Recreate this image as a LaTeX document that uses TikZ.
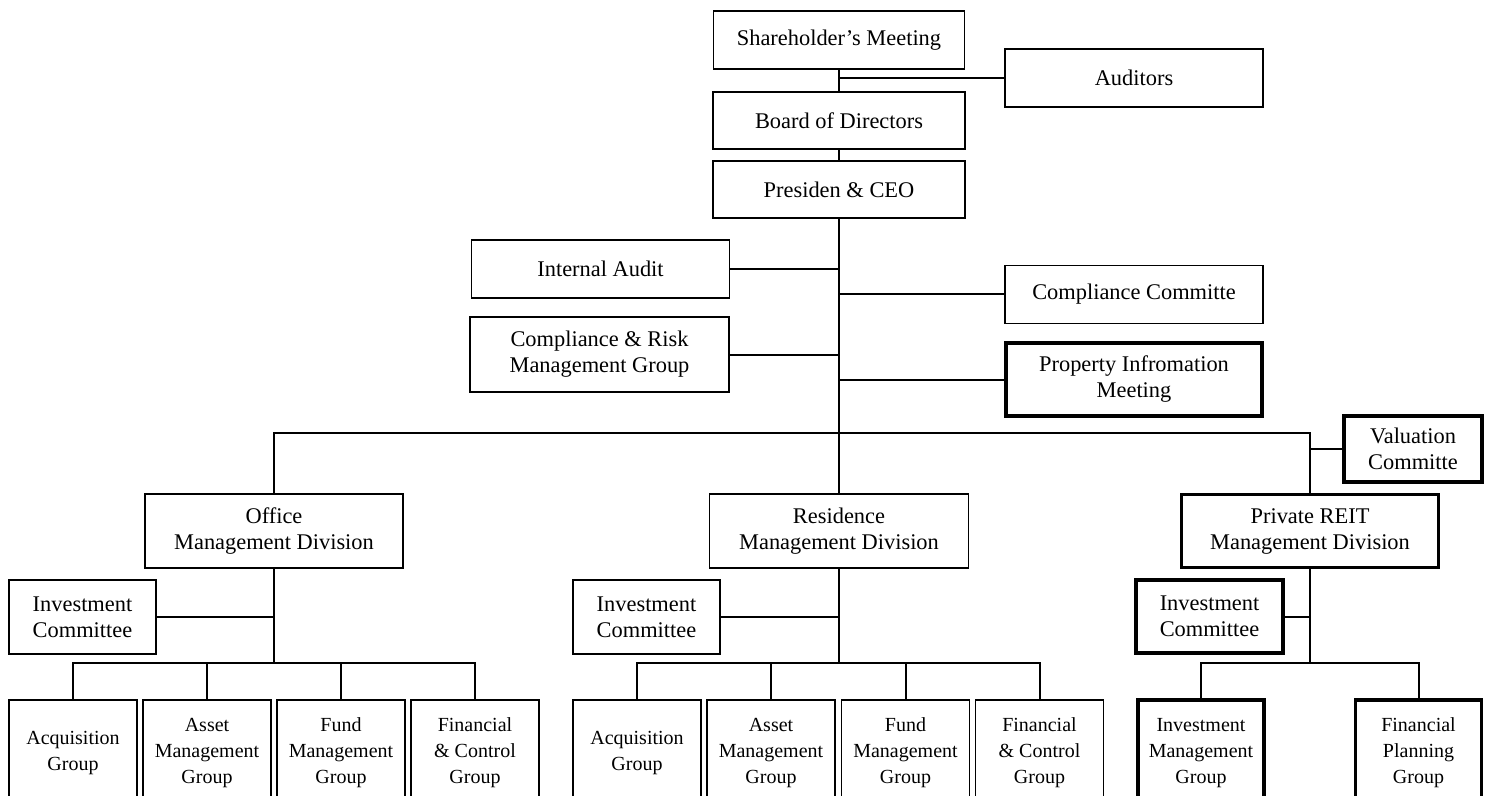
\documentclass[tikz,border=0pt]{standalone}
\usepackage{fontspec}
\setmainfont{Liberation Serif}
\usepackage{tikz}
\newcommand{\orgFont}{\fontsize{11.2}{13}\selectfont}
\newcommand{\groupFont}{\fontsize{10}{13}\selectfont}
\newcommand{\groupWidth}{64pt}
\newcommand{\groupHeight}{53pt}

\begin{document}
\begin{tikzpicture}[x=0.5pt, y=-0.5pt,
		orgbox/.style={draw, line width=0.7pt, align=center, inner sep=1pt, font=\orgFont},
		heavybox/.style={orgbox, line width=1.7pt},
		groupbox/.style={orgbox, font=\groupFont, minimum width=\groupWidth, minimum height=\groupHeight},
		heavygroup/.style={groupbox, line width=1.7pt},
		link/.style={line width=1pt}]
		\useasboundingbox (0,0) rectangle (1491,796);
		\clip (0,0) rectangle (1491,796);
		%top of the chart
		\node[orgbox, minimum width=125.5pt, minimum height=29pt] (share) at (839,40) {Shareholder's Meeting};
		\node[orgbox, minimum width=129pt, minimum height=29pt] (auditors) at (1134,78) {Auditors};
		\node[orgbox, minimum width=126pt, minimum height=28.5pt] (board) at (839,120.5) {Board of Directors};
		\node[orgbox, minimum width=126pt, minimum height=28.5pt] (ceo) at (839,189.5) {Presiden \& CEO};
		%staff around the president
		\node[orgbox, minimum width=129pt, minimum height=29pt] (intaudit) at (600.5,269) {Internal Audit};
		\node[orgbox, minimum width=129.5pt, minimum height=37.5pt] (crm) at (599.5,354.5) {Compliance \& Risk\\Management Group};
		\node[orgbox, minimum width=129pt, minimum height=29pt] (compcomm) at (1134,294.5) {Compliance Committe};
		\node[heavybox, minimum width=128pt, minimum height=36.5pt] (propinfo) at (1134,379.5) {Property Infromation\\Meeting};
		\coordinate (trunk) at (839,433);
		%divisions
		\node[heavybox, minimum width=69pt, minimum height=33pt] (valuation) at (1413,449) {Valuation\\Committe};
		\node[orgbox, minimum width=129pt, minimum height=37pt] (office) at (274,531) {Office\\Management Division};
		\node[orgbox, minimum width=129.5pt, minimum height=37pt] (residence) at (839,531) {Residence\\Management Division};
		\node[heavybox, minimum width=128.5pt, minimum height=36.5pt] (preit) at (1310,531) {Private REIT\\Management Division};
		%office division
		\node[orgbox, minimum width=73.5pt, minimum height=37pt] (officeinv) at (82.5,617) {Investment\\Committee};
		\coordinate (officebus) at (274,663);
		\node[groupbox] (officeacq) at (73,753) {Acquisition\\Group};
		\node[groupbox] (officeasset) at (207,753) {Asset\\Management\\Group};
		\node[groupbox] (officefund) at (341,753) {Fund\\Management\\Group};
		\node[groupbox] (officefin) at (475,753) {Financial\\\& Control\\Group};
		%residence division
		\node[orgbox, minimum width=73.5pt, minimum height=37pt] (resinv) at (646.5,617) {Investment\\Committee};
		\coordinate (resbus) at (839,663);
		\node[groupbox] (resacq) at (637,753) {Acquisition\\Group};
		\node[groupbox] (resasset) at (771,753) {Asset\\Management\\Group};
		\node[groupbox] (resfund) at (905.5,753) {Fund\\Management\\Group};
		\node[groupbox] (resfin) at (1039.5,753) {Financial\\\& Control\\Group};
		%private REIT division
		\node[heavybox, minimum width=73.5pt, minimum height=36.5pt] (preitinv) at (1209.5,616.5) {Investment\\Committee};
		\coordinate (preitbus) at (1310,663);
		\node[heavygroup, minimum width=63pt] (preitmgmt) at (1201,753) {Investment\\Management\\Group};
		\node[heavygroup, minimum width=63pt] (preitplan) at (1418.5,753) {Financial\\Planning\\Group};

		%connectors
		\draw[link] (share.south) -- (board.north);
		\draw[link] (auditors.west) -- (auditors.west -| share.south);
		\draw[link] (board.south) -- (ceo.north);
		\draw[link] (ceo.south) -- (trunk);
		\draw[link] (intaudit.east) -- (intaudit.east -| trunk);
		\draw[link] (crm.east) -- (crm.east -| trunk);
		\draw[link] (compcomm.west) -- (compcomm.west -| trunk);
		\draw[link] (propinfo.west) -- (propinfo.west -| trunk);
		\draw[link] (office.north) |- (trunk) -| (preit.north);
		\draw[link] (trunk) -- (residence.north);
		\draw[link] (valuation.west) -- (valuation.west -| preit.north);
		%office tree
		\draw[link] (office.south) -- (officebus);
		\draw[link] (officeinv.east) -- (officeinv.east -| officebus);
		\draw[link] (officeacq.north) |- (officebus) -| (officefin.north);
		\draw[link] (officeasset.north) -- (officeasset.north |- officebus);
		\draw[link] (officefund.north) -- (officefund.north |- officebus);
		%residence tree
		\draw[link] (residence.south) -- (resbus);
		\draw[link] (resinv.east) -- (resinv.east -| resbus);
		\draw[link] (resacq.north) |- (resbus) -| (resfin.north);
		\draw[link] (resasset.north) -- (resasset.north |- resbus);
		\draw[link] (resfund.north) -- (resfund.north |- resbus);
		%private REIT tree
		\draw[link] (preit.south) -- (preitbus);
		\draw[link] (preitinv.east) -- (preitinv.east -| preitbus);
		\draw[link] (preitmgmt.north) |- (preitbus) -| (preitplan.north);
	\end{tikzpicture}
\end{document}
